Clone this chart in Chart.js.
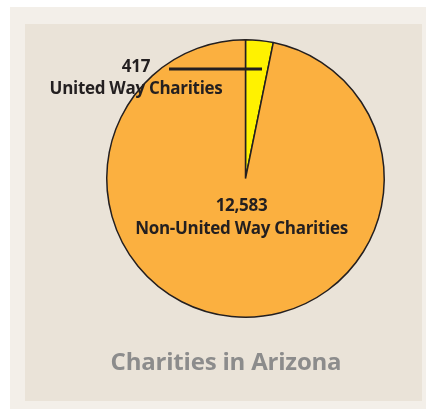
<!DOCTYPE html>
<html>
<head>
<meta charset="utf-8">
<script src="https://cdn.jsdelivr.net/npm/chart.js@4/dist/chart.umd.min.js"></script>
<style>
  html, body { margin: 0; padding: 0; background: #ffffff; }
  #wrap { width: 426px; height: 409px; position: relative; }
</style>
</head>
<body>
<div id="wrap"><canvas id="myChart" width="426" height="409"></canvas></div>
<script>
const categories = ['United Way Charities', 'Non-United Way Charities'];
const values = [417, 12583];
const colors = ['#fff200', '#fbb040'];
const chartTitle = 'Charities in Arizona';

const textColor = '#231f20';
const fontFamily = '"Open Sans", "Liberation Sans", sans-serif';

// panels behind the chart
const backgroundPanels = {
  id: 'backgroundPanels',
  beforeDraw(chart) {
    const ctx = chart.ctx;
    ctx.save();
    ctx.fillStyle = '#f3efe9';
    ctx.fillRect(10, 7, 416, 402);
    ctx.fillStyle = '#eae3d8';
    ctx.fillRect(25, 24, 397, 377);
    ctx.restore();
  }
};

// value + name labels, leader line and the title
const pieLabels = {
  id: 'pieLabels',
  afterDraw(chart) {
    const ctx = chart.ctx;
    const arcs = chart.getDatasetMeta(0).data;
    ctx.save();
    ctx.fillStyle = textColor;
    ctx.textAlign = 'center';
    ctx.textBaseline = 'middle';
    ctx.font = 'bold 17px ' + fontFamily;
    ctx.letterSpacing = '-0.3px';

    // small slice: label outside on the left with a leader line
    ctx.fillText(values[0].toLocaleString('en-US'), 136, 67);
    ctx.fillText(categories[0], 136, 89);
    const a0 = arcs[0];
    ctx.strokeStyle = textColor;
    ctx.lineWidth = 3;
    ctx.beginPath();
    ctx.moveTo(169, 69);
    ctx.lineTo(a0.x + 16.5, 69);
    ctx.stroke();

    // big slice: label inside
    const a1 = arcs[1];
    ctx.fillText(values[1].toLocaleString('en-US'), a1.x - 4, 206);
    ctx.fillText(categories[1], a1.x - 4, 229);

    ctx.fillStyle = '#8c8c8c';
    ctx.font = 'bold 24px ' + fontFamily;
    ctx.letterSpacing = '-0.2px';
    ctx.fillText(chartTitle, 226, 363);
    ctx.restore();
  }
};

const data = {
  labels: categories,
  datasets: [{
    data: values,
    backgroundColor: colors,
    borderColor: textColor,
    borderWidth: 1.5,
    hoverOffset: 0
  }]
};

const config = {
  type: 'pie',
  data: data,
  options: {
    responsive: false,
    animation: false,
    layout: { padding: { left: 106, right: 41, top: 39, bottom: 91 } },
    plugins: {
      legend: { display: false },
      tooltip: { enabled: false },
      title: { display: false }
    }
  },
  plugins: [backgroundPanels, pieLabels]
};

var ctx = document.getElementById('myChart');
var myChart = new Chart(ctx, config);
</script>
</body>
</html>
